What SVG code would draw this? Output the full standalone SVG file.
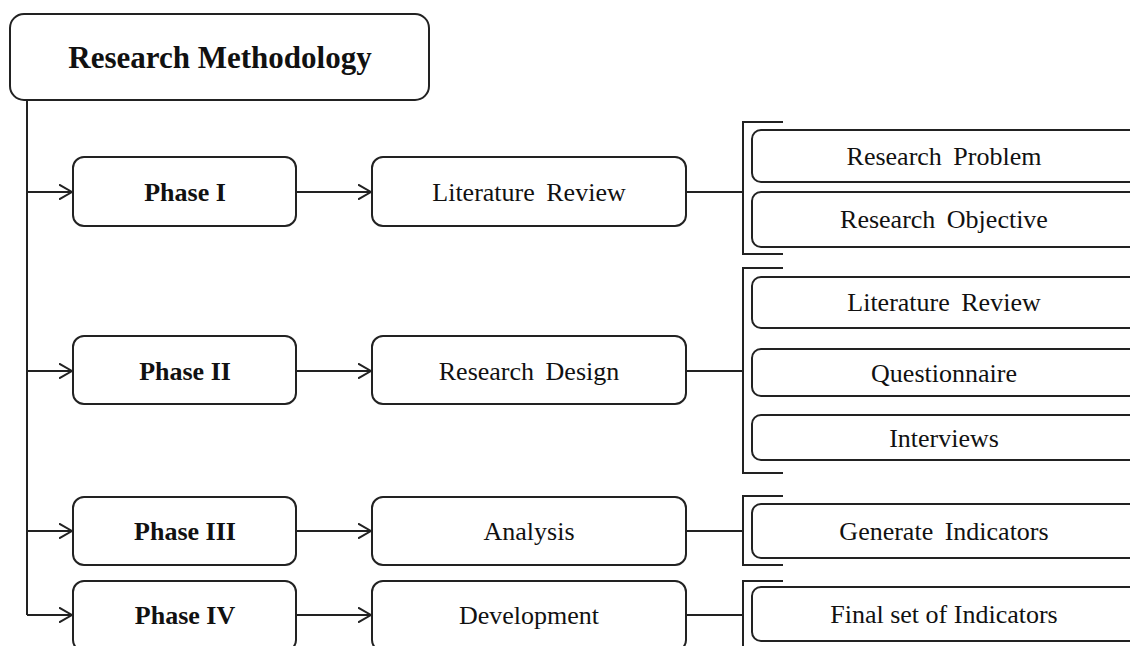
<svg xmlns="http://www.w3.org/2000/svg" width="1130" height="646" viewBox="0 0 1130 646">
<style>
.box{fill:#fff;stroke:#222;stroke-width:2}
.ln{fill:none;stroke:#222;stroke-width:2}
.t{font-family:"Liberation Serif","Times New Roman",serif;font-size:26px;fill:#111;text-anchor:middle}
.b{font-weight:bold}
.ws{word-spacing:5px}
</style>
<defs>
<marker id="ah" viewBox="0 0 14 16" refX="13" refY="8" markerWidth="14" markerHeight="16" markerUnits="userSpaceOnUse" orient="auto">
<path d="M0,0.5 L13,8 L0,15.5" fill="none" stroke="#222" stroke-width="2"/>
</marker>
</defs>
<rect width="1130" height="646" fill="#fff"/>
<g id="connectors">
<path class="ln" d="M27,100 V615"/>
<path class="ln" d="M27,192 H72" marker-end="url(#ah)"/>
<path class="ln" d="M27,371 H72" marker-end="url(#ah)"/>
<path class="ln" d="M27,531 H72" marker-end="url(#ah)"/>
<path class="ln" d="M27,615 H72" marker-end="url(#ah)"/>
<path class="ln" d="M296,192 H371" marker-end="url(#ah)"/>
<path class="ln" d="M296,371 H371" marker-end="url(#ah)"/>
<path class="ln" d="M296,531 H371" marker-end="url(#ah)"/>
<path class="ln" d="M296,615 H371" marker-end="url(#ah)"/>
<path class="ln" d="M686,192 H743"/>
<path class="ln" d="M686,371 H743"/>
<path class="ln" d="M686,531 H743"/>
<path class="ln" d="M686,615 H743"/>
<path class="ln" d="M783,122 H743 V254 H783"/>
<path class="ln" d="M783,268 H743 V473 H783"/>
<path class="ln" d="M783,496 H743 V565 H783"/>
<path class="ln" d="M783,581 H743 V660"/>
</g>
<g id="root">
<rect class="box" x="10" y="14" width="419" height="86" rx="14"/>
<text class="t b" x="220" y="68" style="font-size:31px">Research Methodology</text>
</g>
<g id="phase1">
<rect class="box" x="73" y="157" width="223" height="69" rx="11"/>
<text class="t b" x="185" y="201">Phase I</text>
</g>
<g id="phase2">
<rect class="box" x="73" y="336" width="223" height="68" rx="11"/>
<text class="t b" x="185" y="380">Phase II</text>
</g>
<g id="phase3">
<rect class="box" x="73" y="497" width="223" height="68" rx="11"/>
<text class="t b" x="185" y="540">Phase III</text>
</g>
<g id="phase4">
<rect class="box" x="73" y="581" width="223" height="70" rx="11"/>
<text class="t b" x="185" y="624">Phase IV</text>
</g>
<g id="litreview">
<rect class="box" x="372" y="157" width="314" height="69" rx="11"/>
<text class="t ws" x="529" y="201">Literature Review</text>
</g>
<g id="design">
<rect class="box" x="372" y="336" width="314" height="68" rx="11"/>
<text class="t ws" x="529" y="380">Research Design</text>
</g>
<g id="analysis">
<rect class="box" x="372" y="497" width="314" height="68" rx="11"/>
<text class="t" x="529" y="540">Analysis</text>
</g>
<g id="development">
<rect class="box" x="372" y="581" width="314" height="70" rx="11"/>
<text class="t" x="529" y="624">Development</text>
</g>
<g id="problem">
<rect class="box" x="752" y="130" width="400" height="52" rx="9"/>
<text class="t ws" x="944" y="165">Research Problem</text>
</g>
<g id="objective">
<rect class="box" x="752" y="192" width="400" height="55" rx="9"/>
<text class="t ws" x="944" y="228">Research Objective</text>
</g>
<g id="litreview2">
<rect class="box" x="752" y="277" width="400" height="51" rx="9"/>
<text class="t ws" x="944" y="311">Literature Review</text>
</g>
<g id="questionnaire">
<rect class="box" x="752" y="349" width="400" height="47" rx="9"/>
<text class="t" x="944" y="382">Questionnaire</text>
</g>
<g id="interviews">
<rect class="box" x="752" y="415" width="400" height="45" rx="9"/>
<text class="t" x="944" y="447">Interviews</text>
</g>
<g id="generate">
<rect class="box" x="752" y="504" width="400" height="54" rx="9"/>
<text class="t ws" x="944" y="540">Generate Indicators</text>
</g>
<g id="final">
<rect class="box" x="752" y="587" width="400" height="54" rx="9"/>
<text class="t" x="944" y="623">Final set of Indicators</text>
</g>
</svg>
